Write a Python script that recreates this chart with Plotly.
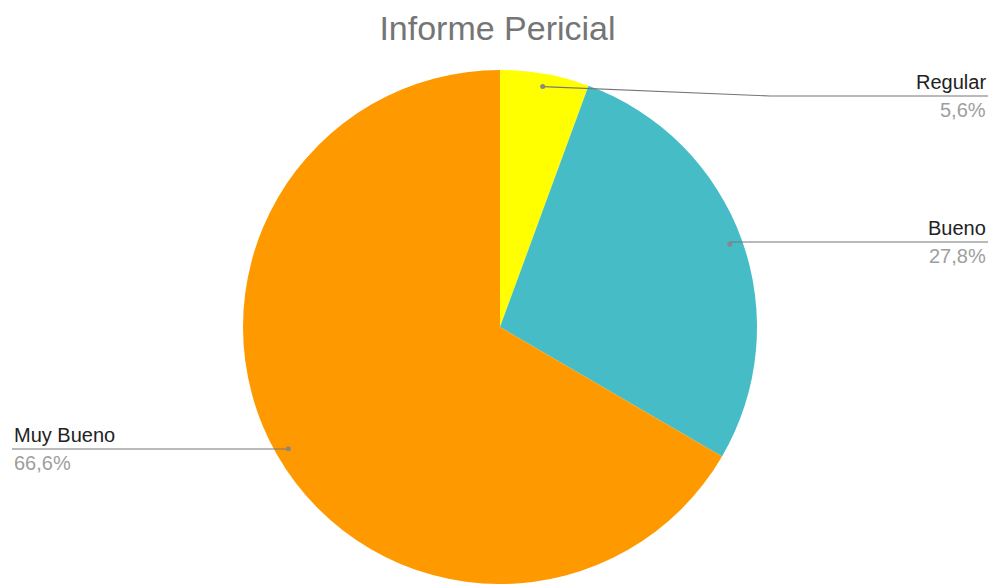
import math
import plotly.graph_objects as go

# ---- data ----
categories = ["Regular", "Bueno", "Muy Bueno"]
values = [5.6, 27.8, 66.6]
pct_labels = ["5,6%", "27,8%", "66,6%"]
colors = ["#FFFF00", "#46BDC6", "#FF9900"]
title_text = "Informe Pericial"

# ---- layout geometry (pixels) ----
W, H = 995, 585
CX, CY, R = 500, 327, 257
label_side = ["right", "right", "left"]
label_line_y = [96, 242, 449]
elbow_x = [770, None, None]
right_x, left_x = 988, 12

def px2paper(x, y):
    return x / W, 1 - y / H

fig = go.Figure(go.Pie(
    labels=categories, values=values, sort=False, direction="clockwise",
    rotation=0, marker=dict(colors=colors, line=dict(width=0)),
    textinfo="none", hoverinfo="label+percent", showlegend=False,
    domain=dict(x=[(CX - R) / W, (CX + R) / W], y=[1 - (CY + R) / H, 1 - (CY - R) / H]),
))

shapes, annotations = [], []
total = sum(values)
cum = 0
for i, v in enumerate(values):
    mid = (cum + v / 2) / total * 2 * math.pi
    cum += v
    dx = CX + 0.95 * R * math.sin(mid)
    dy = CY - 0.95 * R * math.cos(mid)
    ly = label_line_y[i]
    endx = right_x if label_side[i] == "right" else left_x
    pts = [(dx, dy)]
    if elbow_x[i] is not None:
        pts.append((elbow_x[i], ly))
    else:
        pts.append((dx, ly))
    pts.append((endx, ly))
    path = "M " + " L ".join(f"{px2paper(x, y)[0]},{px2paper(x, y)[1]}" for x, y in pts)
    shapes.append(dict(type="path", xref="paper", yref="paper", path=path,
                       line=dict(color="#777777", width=1.1)))
    x0, y0 = px2paper(dx - 2.5, dy - 2.5)
    x1, y1 = px2paper(dx + 2.5, dy + 2.5)
    shapes.append(dict(type="circle", xref="paper", yref="paper", x0=x0, y0=y0, x1=x1, y1=y1,
                       fillcolor="#888888", line=dict(color="#888888", width=0)))
    ax, ayl = px2paper(endx, ly)
    anchor = "right" if label_side[i] == "right" else "left"
    annotations.append(dict(xref="paper", yref="paper", x=ax, y=ayl, text=categories[i],
                            showarrow=False, xanchor=anchor, yanchor="bottom", yshift=1,
                            font=dict(family="Arial", size=20, color="#222222")))
    annotations.append(dict(xref="paper", yref="paper", x=ax, y=ayl, text=pct_labels[i],
                            showarrow=False, xanchor=anchor, yanchor="top", yshift=-1,
                            font=dict(family="Arial", size=20, color="#9E9E9E")))

fig.update_layout(
    width=W, height=H, margin=dict(l=0, r=0, t=0, b=0),
    paper_bgcolor="white", plot_bgcolor="white",
    title=dict(text=title_text, x=0.5, xanchor="center", y=1 - 28 / H, yanchor="middle",
               font=dict(family="Arial", size=34, color="#757575")),
    shapes=shapes, annotations=annotations,
)
fig.write_html("out.html", config={"displayModeBar": False},
               post_script="document.body.style.margin='0';document.body.style.overflow='hidden';")
